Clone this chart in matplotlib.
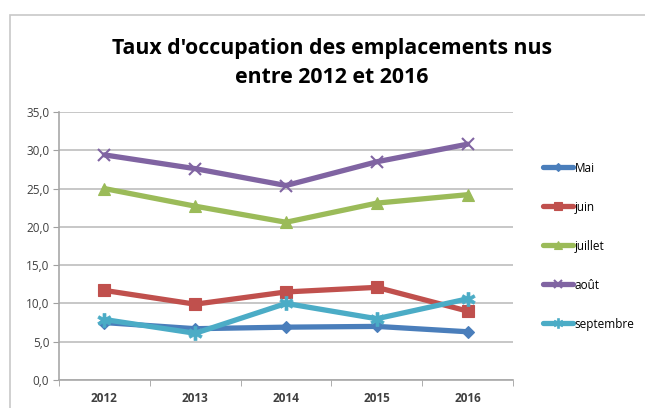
import matplotlib
matplotlib.use("Agg")
import matplotlib.pyplot as plt
from matplotlib.patches import Rectangle
from matplotlib.ticker import FixedLocator

years = ["2012", "2013", "2014", "2015", "2016"]
mai = [7.5, 6.7, 6.9, 7.0, 6.3]
juin = [11.7, 9.9, 11.5, 12.1, 9.0]
juillet = [25.0, 22.7, 20.6, 23.1, 24.2]
aout = [29.4, 27.6, 25.4, 28.5, 30.8]
septembre = [7.9, 6.1, 10.0, 8.0, 10.6]
series_names = ["Mai", "juin", "juillet", "août", "septembre"]
yticks = [0, 5, 10, 15, 20, 25, 30, 35]
title = "Taux d'occupation des emplacements nus\nentre 2012 et 2016"

plt.rcParams['font.family'] = ['Open Sans', 'DejaVu Sans']

W, H = 645, 408
fig = plt.figure(figsize=(W / 100, H / 100), dpi=100)
fig.patch.set_facecolor("white")

# chart border (cropped Excel frame)
fig.patches.append(Rectangle((10 / W, -0.1), 1.2, (H - 15) / H + 0.1,
                             transform=fig.transFigure, fill=False,
                             edgecolor="#C8C8C8", linewidth=1.2))

ax = fig.add_axes([59 / W, (H - 380) / H, (513 - 59) / W, (380 - 112) / H])
x = list(range(len(years)))

styles = [
    (mai, "#4A7EBB", "D", 6),
    (juin, "#C0504D", "s", 9),
    (juillet, "#9BBB59", "^", 9),
    (aout, "#8064A2", "x", 9),
    (septembre, "#4BACC6", "*", 10),
]
for (vals, col, mk, ms), name in zip(styles, series_names):
    if mk in ("x",):
        ax.plot(x, vals, color=col, lw=3.8, marker=mk, ms=ms, mew=1.5,
                mec=col, label=name, solid_capstyle="round")
    elif mk == "*":
        ax.plot(x, vals, color=col, lw=3.8, marker="$\u2731$", ms=ms, mew=0.5,
                mec=col, mfc=col, label=name, solid_capstyle="round")
    else:
        ax.plot(x, vals, color=col, lw=3.8, marker=mk, ms=ms, mec=col,
                mfc=col, mew=0.8, label=name, solid_capstyle="round")

ax.set_xlim(-0.5, 4.5)
ax.set_ylim(0, 35)
ax.set_yticks(yticks)
ax.set_yticklabels([f"{v:.1f}".replace(".", ",") for v in yticks])
ax.set_xticks(x)
ax.set_xticklabels(years, fontweight="bold")
ax.xaxis.set_minor_locator(FixedLocator([-0.5, 0.5, 1.5, 2.5, 3.5, 4.5]))
ax.tick_params(axis="x", which="major", length=0, pad=9, labelsize=8.5,
               labelcolor="#404040")
ax.tick_params(axis="x", which="minor", length=4, color="#A0A0A0", direction="out")
ax.tick_params(axis="y", length=4, color="#A0A0A0", labelsize=8.5,
               labelcolor="#404040", pad=3)
ax.grid(axis="y", color="#BEBEBE", lw=1.2)
ax.set_axisbelow(True)
for s in ["top", "right"]:
    ax.spines[s].set_visible(False)
for s in ["left", "bottom"]:
    ax.spines[s].set_color("#A8A8A8")
    ax.spines[s].set_linewidth(1.2)

fig.text(332 / W, 1 - 63 / H, title, ha="center", va="center",
         fontsize=15.3, fontweight="bold", color="#000000", linespacing=1.45)

leg = ax.legend(loc="upper left", bbox_to_anchor=(532 / W, 1 - 151 / H),
                bbox_transform=fig.transFigure, frameon=False,
                fontsize=8.5, handlelength=2.6, handletextpad=0.1,
                labelspacing=2.2, markerscale=0.7)

fig.savefig("out.png", dpi=100)
